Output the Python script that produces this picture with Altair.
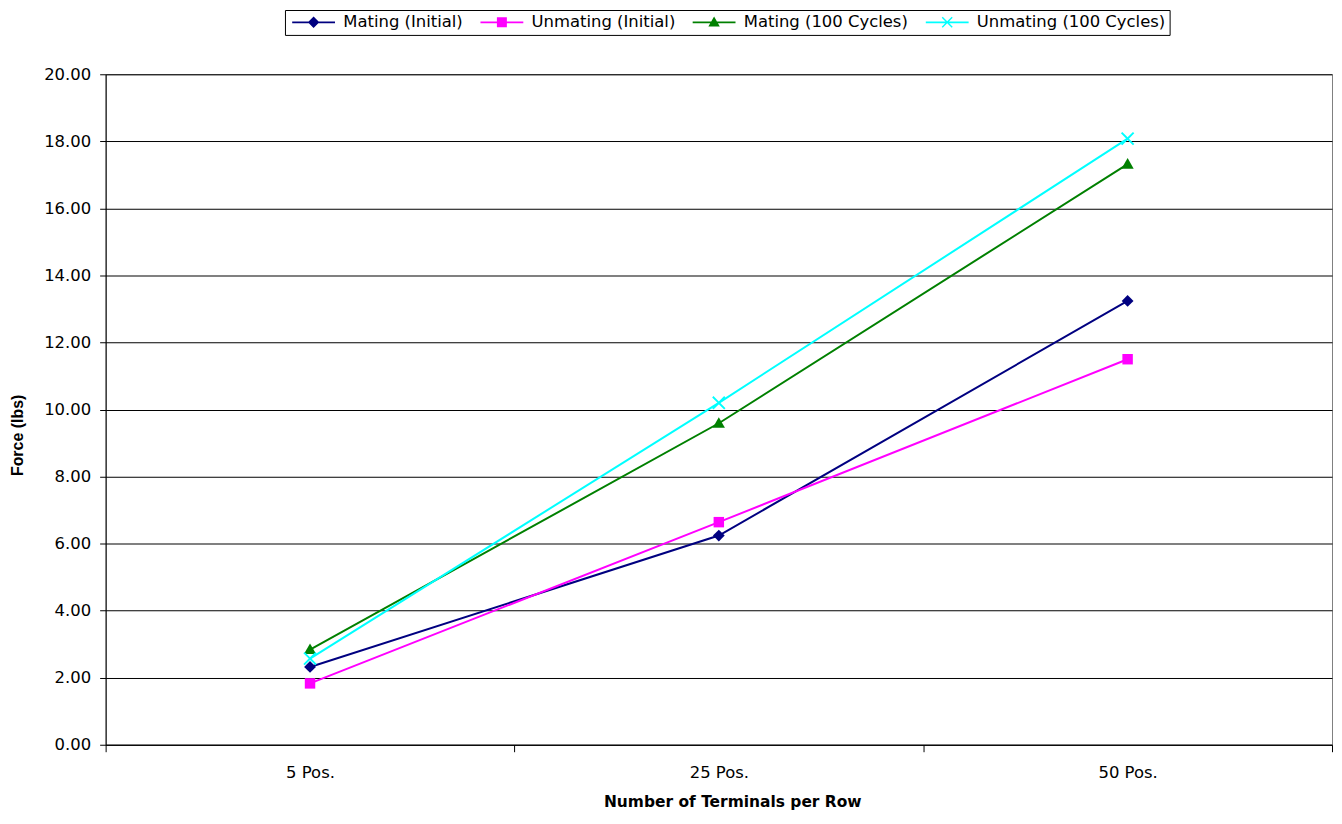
import altair as alt
import pandas as pd

categories = ["5 Pos.", "25 Pos.", "50 Pos."]
series_names = ["Mating (Initial)", "Unmating (Initial)", "Mating (100 Cycles)", "Unmating (100 Cycles)"]
mating_initial = [2.32, 6.24, 13.24]
unmating_initial = [1.83, 6.64, 11.50]
mating_100 = [2.84, 9.59, 17.32]
unmating_100 = [2.57, 10.20, 18.08]
y_ticks = [0, 2, 4, 6, 8, 10, 12, 14, 16, 18, 20]

colors = ["#000080", "#FF00FF", "#008000", "#00FFFF"]

# marker paths (unit box) and legend paths (marker + line)
marker_paths = [
    "M0,-1L1,0L0,1L-1,0Z",
    "M-1,-1L1,-1L1,1L-1,1Z",
    "M0,-1L1,0.75L-1,0.75Z",
    "M-1,-0.8L-0.8,-1L0,-0.2L0.8,-1L1,-0.8L0.2,0L1,0.8L0.8,1L0,0.2L-0.8,1L-1,0.8L-0.2,0Z",
]
marker_sizes = [140, 110, 150, 180]
bar = "M-4.3,-0.16L4.3,-0.16L4.3,0.16L-4.3,0.16Z"
legend_markers = [
    "M0,-1.15L1.15,0L0,1.15L-1.15,0Z",
    "M-1,-1L1,-1L1,1L-1,1Z",
    "M0,-1.15L1.15,0.85L-1.15,0.85Z",
    "M-1.1,-0.9L-0.9,-1.1L0,-0.2L0.9,-1.1L1.1,-0.9L0.2,0L1.1,0.9L0.9,1.1L0,0.2L-0.9,1.1L-1.1,0.9L-0.2,0Z",
]
legend_paths = [bar + m for m in legend_markers]

values = [mating_initial, unmating_initial, mating_100, unmating_100]
rows = []
for s, vals in zip(series_names, values):
    for i, (c, v) in enumerate(zip(categories, vals)):
        rows.append({"series": s, "category": c, "force": v, "order": i})
df = pd.DataFrame(rows)

FONT = "DejaVu Sans"

x_enc = alt.X(
    "category:N",
    sort=categories,
    scale=alt.Scale(type="band", domain=categories, paddingInner=0, paddingOuter=0),
    axis=alt.Axis(
        title="Number of Terminals per Row",
        tickBand="extent",
        labelAngle=0,
        tickSize=7,
        tickColor="black",
        domainColor="black",
        labelFont=FONT,
        labelFontSize=16.5,
        labelColor="black",
        labelPadding=13,
        grid=False,
        titleFont=FONT,
        titleFontSize=15.5,
        titleFontWeight="bold",
        titleColor="black",
        titleX=629,
        titleY=62,
        titleAlign="center",
        titleBaseline="alphabetic",
    ),
)
y_enc = alt.Y(
    "force:Q",
    scale=alt.Scale(domain=[0, 20], nice=False, zero=True),
    axis=alt.Axis(
        values=y_ticks,
        format=".2f",
        tickSize=6,
        tickColor="black",
        domainColor="black",
        labelFont=FONT,
        labelFontSize=16.5,
        labelColor="black",
        labelPadding=9,
        grid=True,
        gridColor="black",
        gridWidth=1,
        title="Force (lbs)",
        titleFont="Liberation Sans",
        titleFontSize=16,
        titleFontWeight="bold",
        titleColor="black",
        titleAngle=270,
        titleX=-88,
        titleY=362,
        titleAlign="center",
        titleBaseline="middle",
    ),
)

base = alt.Chart(df)

series_layers = []
for s, col, path, sz in zip(series_names, colors, marker_paths, marker_sizes):
    sub = base.transform_filter(alt.datum.series == s)
    series_layers.append(
        sub.mark_line(strokeWidth=2, color=col).encode(x=x_enc, y=y_enc, order="order:Q")
    )
    series_layers.append(
        sub.mark_point(filled=True, shape=path, size=sz, color=col, opacity=1).encode(x=x_enc, y=y_enc)
    )

legend_def = dict(
    title=None,
    orient="none",
    legendX=180,
    legendY=-64.5,
    direction="horizontal",
    symbolSize=100,
    symbolStrokeWidth=0,
    labelFont=FONT,
    labelFontSize=16.5,
    labelColor="black",
    labelLimit=400,
    labelOffset=21.5,
    symbolOffset=16.5,
    columnPadding=14,
    padding=4,
    strokeColor="black",
    fillColor="white",
)

legend_layer = (
    base.transform_filter("false")
    .mark_point(filled=True, size=100, opacity=1)
    .encode(
        x=x_enc,
        y=y_enc,
        color=alt.Color(
            "series:N",
            scale=alt.Scale(domain=series_names, range=colors),
            legend=alt.Legend(**legend_def),
        ),
        shape=alt.Shape(
            "series:N",
            scale=alt.Scale(domain=series_names, range=legend_paths),
            legend=alt.Legend(**legend_def),
        ),
    )
)

chart = (
    alt.layer(*series_layers, legend_layer)
    .properties(
        width=1231,
        height=673,
        autosize=alt.AutoSizeParams(type="none"),
        padding={"left": 98, "top": 65, "right": 2, "bottom": 70},
        background="white",
    )
    .configure_view(stroke="#808080", strokeWidth=1)
)

chart.save("out.html", embed_options={"renderer": "svg", "actions": False})
